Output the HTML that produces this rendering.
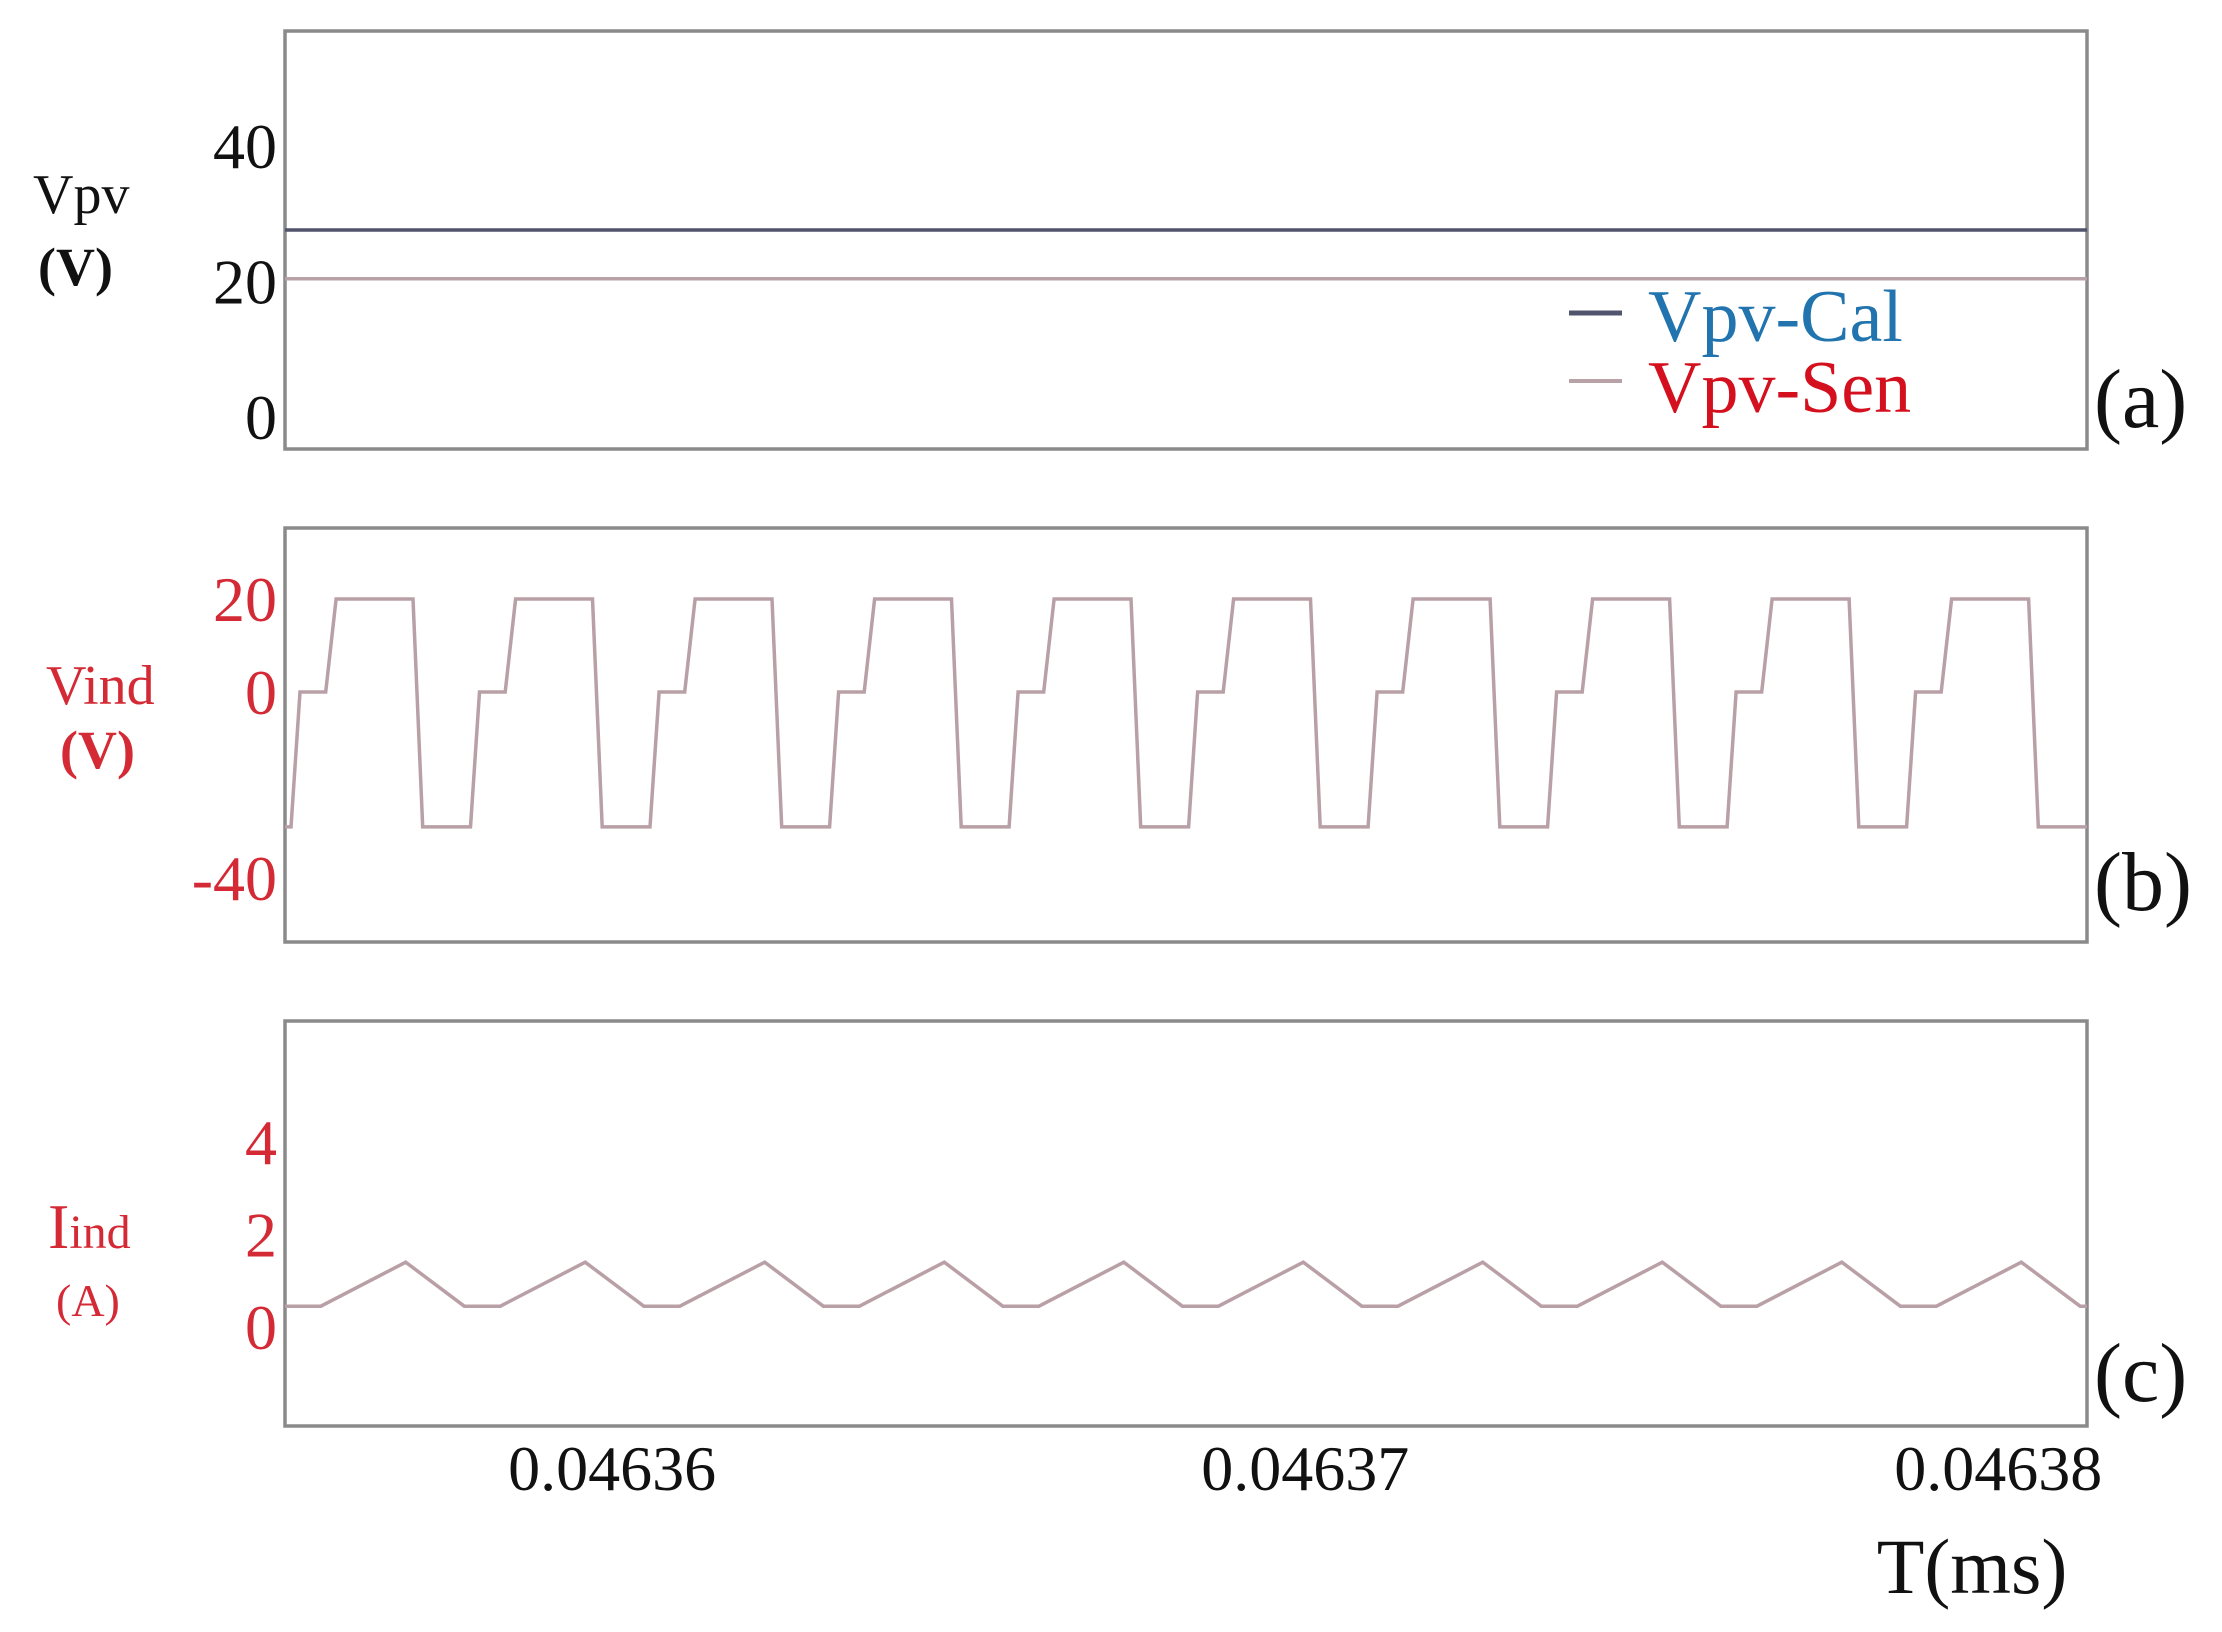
<!DOCTYPE html>
<html><head><meta charset="utf-8">
<style>
html,body{margin:0;padding:0;background:#fff;}
svg{display:block;font-family:"Liberation Serif",serif;}
</style></head>
<body>
<svg id="chart" width="2222" height="1632" viewBox="0 0 2222 1632" xmlns="http://www.w3.org/2000/svg">
<g id="layer"></g>
</svg>
<script>
// time stored so that 46360 == 0.04636 ms
const xTicks = [46360, 46370, 46380];
const xTickLabels = ["0.04636", "0.04637", "0.04638"];
const xDomain = [46355.28, 46381.28];

const pvTicks = [0, 20, 40];
const pvCal = 27.6;
const pvSen = 20.4;

const vindTicks = [-40, 0, 20];
const vindT = [46355.28,
 46355.367,46355.497,46355.867,46356.017,46357.127,46357.267,
 46357.957,46358.087,46358.457,46358.607,46359.717,46359.857,
 46360.547,46360.677,46361.047,46361.197,46362.307,46362.447,
 46363.137,46363.267,46363.637,46363.787,46364.897,46365.037,
 46365.727,46365.857,46366.227,46366.377,46367.487,46367.627,
 46368.317,46368.447,46368.817,46368.967,46370.077,46370.217,
 46370.907,46371.037,46371.407,46371.557,46372.667,46372.807,
 46373.497,46373.627,46373.997,46374.147,46375.257,46375.397,
 46376.087,46376.217,46376.587,46376.737,46377.847,46377.987,
 46378.677,46378.807,46379.177,46379.327,46380.437,46380.577,
 46381.28];
const vindV = [-29,
 -29,0,0,20,20,-29, -29,0,0,20,20,-29, -29,0,0,20,20,-29, -29,0,0,20,20,-29, -29,0,0,20,20,-29,
 -29,0,0,20,20,-29, -29,0,0,20,20,-29, -29,0,0,20,20,-29, -29,0,0,20,20,-29, -29,0,0,20,20,-29,
 -29];

const iindTicks = [0, 2, 4];
const iindT = [46355.28, 46355.797,
 46357.022,46357.867,46358.387,
 46359.612,46360.457,46360.977,
 46362.202,46363.047,46363.567,
 46364.792,46365.637,46366.157,
 46367.382,46368.227,46368.747,
 46369.972,46370.817,46371.337,
 46372.562,46373.407,46373.927,
 46375.152,46375.997,46376.517,
 46377.742,46378.587,46379.107,
 46380.332,46381.18,46381.28];
const iindV = [0.45, 0.45,
 1.4,0.45,0.45, 1.4,0.45,0.45, 1.4,0.45,0.45, 1.4,0.45,0.45, 1.4,0.45,0.45,
 1.4,0.45,0.45, 1.4,0.45,0.45, 1.4,0.45,0.45, 1.4,0.45,0.45,
 1.4,0.45,0.45];

const NS = "http://www.w3.org/2000/svg";
const layer = document.getElementById('layer');
const L = 285, R = 2087;
function x(t){ return L + (t - xDomain[0]) / (xDomain[1] - xDomain[0]) * (R - L); }
const yA = v => 417 - v * 6.775;
const yB = v => 692 - v * 4.65;
const yC = v => 1327 - v * 46.3;

function mk(tag, attrs, parent){
  const e = document.createElementNS(NS, tag);
  for (const k in attrs) e.setAttribute(k, attrs[k]);
  (parent || layer).appendChild(e);
  return e;
}
function txt(s, attrs){ const e = mk('text', attrs); e.textContent = s; return e; }

const panels = [["panel-a",31,449],["panel-b",528,942],["panel-c",1021,1426]];
panels.forEach(p=>{
  const r = mk('rect',{x:L,y:p[1],width:R-L,height:p[2]-p[1],fill:'none',stroke:'#8a8a8a','stroke-width':3.5});
  
  
});

let e = mk('line',{x1:L,x2:R,y1:yA(pvCal),y2:yA(pvCal),stroke:'#50546c','stroke-width':3.5});
 
e = mk('line',{x1:L,x2:R,y1:yA(pvSen),y2:yA(pvSen),stroke:'#b9a2a7','stroke-width':3.5});
 

function poly(ts, vs, yf, name){
  const pts = ts.map((t,i)=>x(t).toFixed(1)+','+yf(vs[i]).toFixed(1)).join(' ');
  const p = mk('polyline',{points:pts,fill:'none',stroke:'#b9a0a6','stroke-width':3.5,'stroke-linejoin':'miter'});
  
  
}
poly(vindT, vindV, yB, 'vind-waveform');
poly(iindT, iindV, yC, 'iind-waveform');

function yticks(ticks, yf, color, name){
  ticks.forEach(v=>{
    const t = txt(String(v),{x:277,y:yf(v)+22,'text-anchor':'end','font-size':64,fill:color});
    
    
  });
}
yticks(pvTicks, yA, '#111', 'vpv-tick-label');
yticks(vindTicks, yB, '#d42a35', 'vind-tick-label');
yticks(iindTicks, yC, '#d42a35', 'iind-tick-label');

xTicks.forEach((t,i)=>{
  const l = txt(xTickLabels[i],{x:x(t),y:1490,'text-anchor':'middle','font-size':64,fill:'#111'});
  
  
});
</script>
<svg style="position:absolute;left:0;top:0" width="2222" height="1632">
  <g font-family="Liberation Serif, serif">
    <text x="33" y="213" font-size="56" fill="#111">Vpv</text>
    <text x="38" y="285" font-size="54" font-weight="bold" fill="#111">(V)</text>
    <text x="46" y="704" font-size="56" fill="#d42a35">Vind</text>
    <text x="60" y="768" font-size="54" font-weight="bold" fill="#d42a35">(V)</text>
    <text x="48" y="1248" fill="#d42a35"><tspan font-size="64">I</tspan><tspan font-size="48">ind</tspan></text>
    <text x="56" y="1316" font-size="46" fill="#d42a35">(A)</text>
    <line x1="1569" x2="1622" y1="313" y2="313" stroke="#50546c" stroke-width="5"/>
    <line x1="1569" x2="1622" y1="381" y2="381" stroke="#b9a2a7" stroke-width="4"/>
    <text x="1648" y="341" font-size="74" fill="#2274ae">Vpv-Cal</text>
    <text x="1648" y="412" font-size="74" fill="#d4101e">Vpv-Sen</text>
    <text x="2094" y="427" font-size="84" fill="#111">(a)</text>
    <text x="2094" y="910" font-size="84" fill="#111">(b)</text>
    <text x="2094" y="1401" font-size="84" fill="#111">(c)</text>
    <text x="1972" y="1593" font-size="78" text-anchor="middle" fill="#111">T(ms)</text>
  </g>
</svg>
</body></html>
